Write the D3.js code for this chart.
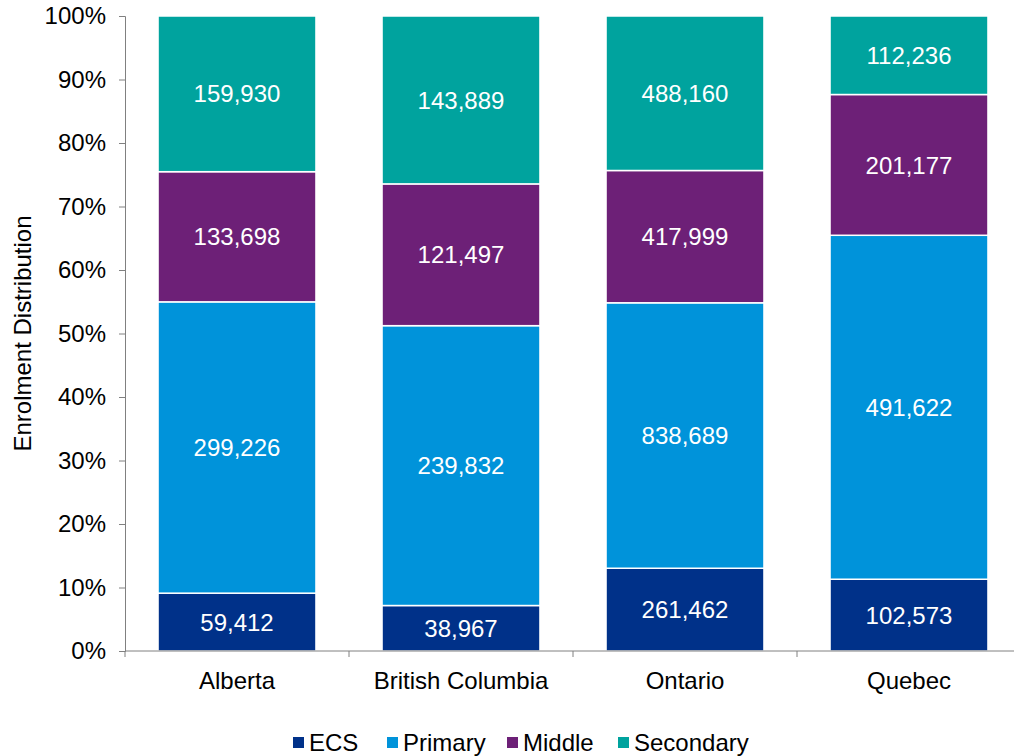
<!DOCTYPE html>
<html>
<head>
<meta charset="utf-8">
<script src="https://cdn.jsdelivr.net/npm/d3@7"></script>
<style>
body { margin: 0; background: #fff; }
text { font-family: "Liberation Sans", Arial, sans-serif; }
</style>
</head>
<body>
<script>
var provinces = ["Alberta", "British Columbia", "Ontario", "Quebec"];
var levels = ["ECS", "Primary", "Middle", "Secondary"];
var ecs = [59412, 38967, 261462, 102573];
var primary = [299226, 239832, 838689, 491622];
var middle = [133698, 121497, 417999, 201177];
var secondary = [159930, 143889, 488160, 112236];
var colors = ["#003189", "#0093DA", "#6D2077", "#00A39E"];
var yTicks = [0, 0.1, 0.2, 0.3, 0.4, 0.5, 0.6, 0.7, 0.8, 0.9, 1];

var width = 1014, height = 756;
var plotLeft = 125, plotTop = 16, plotBottom = 651, step = 224;
var plotRight = plotLeft + step * provinces.length;

var data = provinces.map(function(p, i) {
  return { province: p, ECS: ecs[i], Primary: primary[i], Middle: middle[i], Secondary: secondary[i] };
});

var stack = d3.stack().keys(levels).offset(d3.stackOffsetExpand);
var series = stack(data);

var x = d3.scaleBand().domain(provinces).range([plotLeft, plotRight]).paddingInner(0.295).paddingOuter(0.1475);
var y = d3.scaleLinear().domain([0, 1]).range([plotBottom, plotTop]);
var color = d3.scaleOrdinal().domain(levels).range(colors);

var svg = d3.select("body").append("svg")
  .attr("width", width)
  .attr("height", height);

var groups = svg.selectAll(".layer")
  .data(series)
  .enter().append("g")
  .attr("class", "layer")
  .attr("fill", function(d) { return color(d.key); });

groups.selectAll("rect")
  .data(function(d) { return d; })
  .enter().append("rect")
  .attr("x", function(d) { return x(d.data.province); })
  .attr("y", function(d) { return y(d[1]); })
  .attr("width", x.bandwidth())
  .attr("height", function(d) { return y(d[0]) - y(d[1]); })
  .attr("stroke", "#fff")
  .attr("stroke-width", 1.5);

var fmt = d3.format(",");
groups.selectAll("text")
  .data(function(d) { return d.map(function(v) { v.key = d.key; return v; }); })
  .enter().append("text")
  .attr("x", function(d) { return x(d.data.province) + x.bandwidth() / 2; })
  .attr("y", function(d) { return (y(d[0]) + y(d[1])) / 2; })
  .attr("dy", "0.36em")
  .attr("text-anchor", "middle")
  .attr("fill", "#fff")
  .style("font-size", "24px")
  .text(function(d) { return fmt(d.data[d.key]); });

// y axis
var yAxis = svg.append("g")
  .attr("transform", "translate(" + plotLeft + ",0)")
  .call(d3.axisLeft(y).tickValues(yTicks).tickFormat(d3.format(".0%")).tickSize(6).tickSizeOuter(6));
yAxis.select(".domain").attr("stroke", "#808080");
yAxis.selectAll(".tick line").attr("stroke", "#808080");
yAxis.selectAll("text").style("font-size", "24px").attr("fill", "#000").attr("x", -19);

// x axis
var xAxis = svg.append("g")
  .attr("transform", "translate(0," + plotBottom + ")");
xAxis.append("line")
  .attr("x1", plotLeft).attr("x2", plotRight)
  .attr("stroke", "#808080");
xAxis.selectAll(".xt")
  .data(d3.range(provinces.length + 1))
  .enter().append("line")
  .attr("x1", function(i) { return plotLeft + i * step; })
  .attr("x2", function(i) { return plotLeft + i * step; })
  .attr("y1", 0).attr("y2", 6)
  .attr("stroke", "#808080");
xAxis.selectAll(".xl")
  .data(provinces)
  .enter().append("text")
  .attr("x", function(d) { return x(d) + x.bandwidth() / 2; })
  .attr("y", 38)
  .attr("text-anchor", "middle")
  .style("font-size", "24px")
  .text(function(d) { return d; });

svg.append("text")
  .attr("transform", "translate(31," + (plotTop + plotBottom) / 2 + ") rotate(-90)")
  .attr("text-anchor", "middle")
  .style("font-size", "24px")
  .text("Enrolment Distribution");

// legend
var legendX = [293, 387, 507, 618];
var legend = svg.selectAll(".legend")
  .data(levels)
  .enter().append("g")
  .attr("transform", function(d, i) { return "translate(" + legendX[i] + ",742)"; });
legend.append("rect")
  .attr("x", 0).attr("y", -5)
  .attr("width", 11).attr("height", 11)
  .attr("fill", function(d) { return color(d); });
legend.append("text")
  .attr("x", 16)
  .attr("dy", "0.36em")
  .style("font-size", "24px")
  .text(function(d) { return d; });
</script>
</body>
</html>
